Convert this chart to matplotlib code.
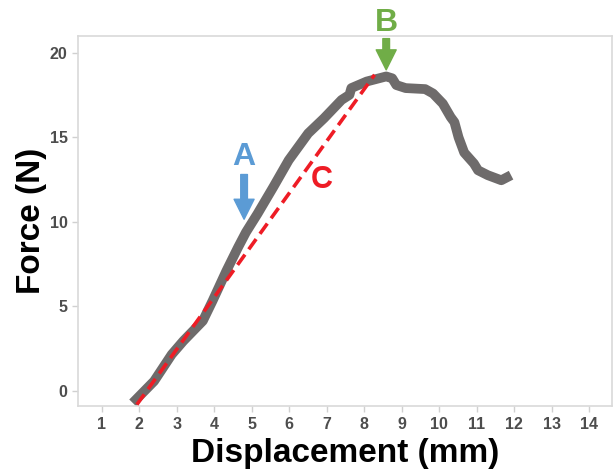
import matplotlib
matplotlib.use("Agg")
import matplotlib.pyplot as plt

# Force-displacement curve
disp = [1.83, 2.40, 2.87, 3.18, 3.70, 3.96, 4.33, 4.64, 4.85, 5.16, 5.58, 5.99,
        6.51, 6.93, 7.40, 7.61, 7.66, 8.07, 8.59, 8.75, 8.86, 9.11, 9.63, 9.84,
        10.10, 10.31, 10.41, 10.52, 10.67, 10.93, 11.04, 11.30, 11.66, 11.92]
force = [-0.73, 0.56, 2.14, 2.94, 4.13, 5.32, 7.10, 8.49, 9.38, 10.48, 12.06, 13.65,
         15.24, 16.13, 17.22, 17.52, 17.92, 18.31, 18.61, 18.50, 18.10, 17.92, 17.86, 17.60,
         17.00, 16.20, 15.90, 15.00, 14.10, 13.45, 13.05, 12.76, 12.46, 12.76]

# Linear fit line C
fit_x = [1.94, 8.28]
fit_y = [-0.83, 18.71]

# Annotation points
A_x, A_text_y, A_tail_y, A_tip_y = 4.8, 13.85, 12.8, 10.15
B_x, B_text_y, B_tail_y, B_tip_y = 8.59, 21.8, 20.85, 19.0
C_x, C_y = 6.88, 12.46

xticks = list(range(1, 15))
yticks = [0, 5, 10, 15, 20]

plt.rcParams['font.family'] = ['Liberation Sans', 'DejaVu Sans']

fig = plt.figure(figsize=(6.14, 4.75), dpi=100)
ax = fig.add_axes([0.127, 0.145, 0.869, 0.779])

ax.plot(disp, force, color='#6E6B6B', lw=7.0, solid_capstyle='butt', solid_joinstyle='round', zorder=2)
ax.plot(fit_x, fit_y, color='#EE1C25', lw=2.6, dashes=(3.5, 1.8), zorder=3)

ax.set_xlim(0.37, 14.6)
ax.set_ylim(-0.92, 21.0)
ax.set_xticks(xticks)
ax.set_yticks(yticks)

for s in ax.spines.values():
    s.set_color('#D9D9D9')
    s.set_linewidth(1.2)
ax.tick_params(axis='both', colors='#D0D0D0', length=4, width=1, labelcolor='#4D4D4D', labelsize=11.5)
for lab in ax.get_xticklabels() + ax.get_yticklabels():
    lab.set_fontweight('bold')

ax.set_xlabel('Displacement (mm)', fontsize=24, fontweight='bold', labelpad=5)
ax.set_ylabel('Force (N)', fontsize=24, fontweight='bold', labelpad=2)

blue = '#5B9BD5'
green = '#70AD47'
red = '#EE1C25'

ax.text(A_x, A_text_y, 'A', color=blue, fontsize=23, fontweight='bold', ha='center', va='center')
ax.annotate('', xy=(A_x, A_tip_y), xytext=(A_x, A_tail_y),
            arrowprops=dict(arrowstyle='simple,head_width=0.9,head_length=0.9,tail_width=0.3',
                            color=blue, mutation_scale=16, shrinkA=0, shrinkB=0))

ax.text(B_x, B_text_y, 'B', color=green, fontsize=23, fontweight='bold', ha='center', va='center', clip_on=False)
ax.annotate('', xy=(B_x, B_tip_y), xytext=(B_x, B_tail_y), annotation_clip=False,
            arrowprops=dict(arrowstyle='simple,head_width=0.9,head_length=0.9,tail_width=0.3',
                            color=green, mutation_scale=16, shrinkA=0, shrinkB=0))

ax.text(C_x, C_y, 'C', color=red, fontsize=22, fontweight='bold', ha='center', va='center')

fig.savefig('out.png', dpi=100)
